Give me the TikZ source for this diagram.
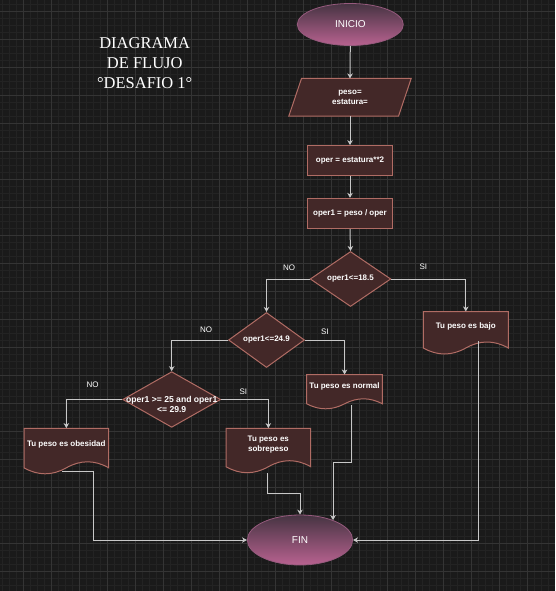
\documentclass[tikz,border=0pt]{standalone}
\usepackage{fontspec}
\setmainfont{Liberation Sans}
\newfontfamily\titlefont{Liberation Serif}
\usetikzlibrary{shapes.geometric,arrows.meta,calc}
\pgfdeclarelayer{gridlayer}
\pgfdeclarelayer{shapelayer}
\pgfsetlayers{gridlayer,shapelayer,main}

\definecolor{bgc}{RGB}{26,26,26}
\definecolor{gridmaj}{RGB}{52,52,52}
\definecolor{gridmin}{RGB}{35,35,35}
\definecolor{boxfill}{RGB}{67,40,40}
\definecolor{boxdraw}{RGB}{176,108,100}
\definecolor{elltop}{RGB}{70,52,66}
\definecolor{ellbot}{RGB}{184,98,144}
\definecolor{ellline}{RGB}{150,90,125}
\definecolor{conncol}{RGB}{200,200,200}

\newcommand\docnode[6]{% name, L, T, W, H, amplitude
 \pgfmathsetmacro\dcL{#2}\pgfmathsetmacro\dcT{#3}\pgfmathsetmacro\dcW{#4}%
 \pgfmathsetmacro\dcH{#5}\pgfmathsetmacro\dcA{#6}%
 \pgfmathsetmacro\dcR{\dcL+\dcW}\pgfmathsetmacro\dcB{\dcT+\dcH}%
 \pgfmathsetmacro\dcS{\dcW/6}\pgfmathsetmacro\dcK{4*\dcA/3}%
 \begin{pgfonlayer}{shapelayer}
 \filldraw[shapesty] (\dcL,\dcT) -- (\dcR,\dcT) -- (\dcR,\dcB)
   .. controls ({\dcR-\dcS},{\dcB-\dcK}) and ({\dcL+4*\dcS},{\dcB-\dcK}) .. ({\dcL+3*\dcS},\dcB)
   .. controls ({\dcL+2*\dcS},{\dcB+\dcK}) and ({\dcL+\dcS},{\dcB+\dcK}) .. (\dcL,\dcB) -- cycle;
 \end{pgfonlayer}
 \node[invis, minimum width=\dcW pt, minimum height=\dcH pt] (#1) at ({\dcL+\dcW/2},{\dcT+\dcH/2}) {};
}

\begin{document}
\begin{tikzpicture}[x=1pt,y=-1pt,
  shapesty/.style={draw=boxdraw, fill=boxfill, line width=1pt},
  invis/.style={rectangle, draw=none, inner sep=0pt},
  txt/.style={text=white, font=\bfseries\fontsize{8}{10}\selectfont, align=center, inner sep=0pt},
  box/.style={shapesty, rectangle, inner sep=0pt, minimum width=84.7pt, minimum height=30.3pt, txt},
  dia/.style={shapesty, diamond, inner sep=0pt, txt},
  ell/.style={ellipse, draw=ellline, line width=0.8pt, top color=elltop, bottom color=ellbot,
     minimum width=106pt, minimum height=42pt, inner sep=0pt, text=white,
     font=\fontsize{10}{12}\selectfont},
  lbl/.style={text=white, font=\fontsize{8}{10}\selectfont, inner sep=0pt},
  conn/.style={draw=conncol, line width=1pt, -{Stealth[length=5pt,width=5.5pt,inset=1.5pt]}},
  titlesty/.style={text=white, font=\titlefont\fontsize{16.5}{20}\selectfont, align=center, inner sep=0pt}
]
\useasboundingbox (0,0) rectangle (555,591);
\begin{pgfonlayer}{gridlayer}
 \fill[bgc] (0,0) rectangle (555,591);
 \foreach \i in {0,...,78} { \draw[gridmin, line width=0.6pt] ({2.3+7*\i},0) -- ({2.3+7*\i},591); }
 \foreach \i in {0,...,83} { \draw[gridmin, line width=0.6pt] (0,{4+7*\i}) -- (555,{4+7*\i}); }
 \foreach \i in {0,...,18} { \draw[gridmaj, line width=0.9pt] ({23.3+28*\i},0) -- ({23.3+28*\i},591); }
 \foreach \i in {0,...,20} { \draw[gridmaj, line width=0.9pt] (0,{11+28*\i}) -- (555,{11+28*\i}); }
\end{pgfonlayer}

% title
\node[titlesty] (title) at (144.7,63) {DIAGRAMA\\DE FLUJO\\°DESAFIO 1°};

% start
\node[ell] (ini) at (350.3,24.5) {INICIO};

% input parallelogram
\node[invis, txt, font=\bfseries\fontsize{8}{10.6}\selectfont, minimum width=109.3pt, minimum height=37.3pt] (inp) at (350,97.3) {peso=\\estatura=};
\begin{pgfonlayer}{shapelayer}
 \filldraw[shapesty] ($(inp.north west)+(6.35,0)$) -- ($(inp.north east)+(6.35,0)$)
   -- ($(inp.south east)+(-6.35,0)$) -- ($(inp.south west)+(-6.35,0)$) -- cycle;
\end{pgfonlayer}

% process boxes
\node[box] (oper) at (350,160.8) {oper = estatura**2};
\node[box] (oper1) at (350,213.5) {oper1 = peso / oper};

% decisions
\node[dia, minimum width=80.7pt, minimum height=55pt] (d1) at (350.5,279) {oper1<=18.5};
\node[dia, minimum width=76pt, minimum height=55pt] (d2) at (266.5,340) {oper1<=24.9};
\node[dia, minimum width=98pt, minimum height=55.7pt] (d3) at (171.7,399.5) {};
\node[txt, font=\bfseries\fontsize{8.6}{9.7}\selectfont] (d3t) at (171.7,404.2) {oper1 >= 25 and oper1\\<= 29.9};

% documents
\docnode{bajo}{423.3}{311.7}{85}{36.3}{6}
\node[txt] (bajot) at (465.8,326) {Tu peso es bajo};
\docnode{normal}{306.7}{374.7}{75.7}{29.1}{5}
\node[txt] (normalt) at (344.5,386) {Tu peso es normal};
\docnode{obes}{24}{428.3}{84.7}{39.5}{6}
\node[txt] (obest) at (66.3,444) {Tu peso es obesidad};
\docnode{sobre}{226}{428.3}{84.7}{38.4}{6}
\node[txt] (sobret) at (268.3,444.3) {Tu peso es\\sobrepeso};

% end
\node[ell, minimum width=105.3pt, minimum height=50pt] (fin) at (300,540) {FIN};

% labels
\node[lbl] (no1) at (289,267.3) {NO};
\node[lbl] (si1) at (423.3,266.7) {SI};
\node[lbl] (no2) at (206,330) {NO};
\node[lbl] (si2) at (325,331.7) {SI};
\node[lbl] (no3) at (92.7,385) {NO};
\node[lbl] (si3) at (243.3,392) {SI};

% connectors
\draw[conn] (ini.south) -- (inp.north);
\draw[conn] (inp.south) -- (oper.north);
\draw[conn] (oper.south) -- (oper1.north);
\draw[conn] (oper1.south) -- (d1.north);
\draw[conn] (d1.west) -| (d2.north);
\draw[conn] (d1.east) -| (bajo.north);
\draw[conn] (d2.west) -| (d3.north);
\draw[conn] (d2.east) -| (normal.north);
\draw[conn] (d3.west) -| (obes.north);
\draw[conn] (d3.east) -| (sobre.north);

\coordinate (bajoout) at (478.3,341);
\draw[conn] (bajoout) |- (fin.east);
\coordinate (normout) at (351.7,405);
\coordinate (normbend) at (351.7,462.7);
\draw[conn] (normout) -- (normbend) -| (fin.31);
\coordinate (sobreout) at (267.7,473);
\draw[conn] (sobreout) |- ($(fin.north)+(0,-21)$) -- (fin.north);
\coordinate (obesout) at (62,471);
\coordinate (obesbend) at (93.3,471);
\draw[conn] (obesout) -- (obesbend) |- (fin.west);
\end{tikzpicture}
\end{document}
